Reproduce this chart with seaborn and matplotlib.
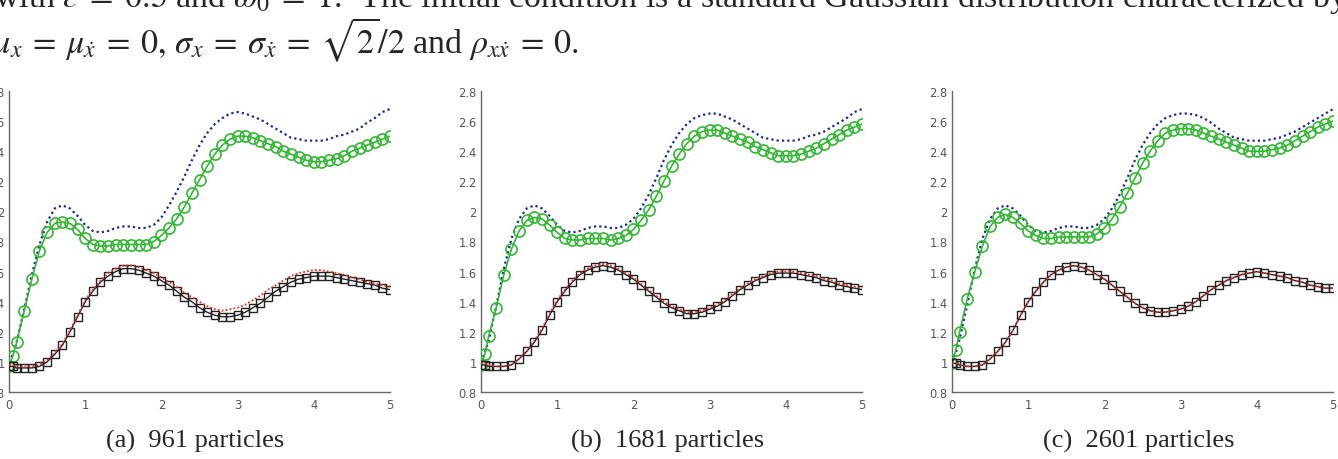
import matplotlib
matplotlib.use("Agg")
import matplotlib.pyplot as plt
from matplotlib.ticker import FuncFormatter
import seaborn as sns

# time samples (s)
t = [0, 0.05, 0.1, 0.2, 0.3, 0.4, 0.5, 0.6, 0.7, 0.8, 0.9, 1.0,
     1.1, 1.2, 1.3, 1.4, 1.5, 1.6, 1.7, 1.8, 1.9, 2.0,
     2.1, 2.2, 2.3, 2.4, 2.5, 2.6, 2.7, 2.8, 2.9, 3.0,
     3.1, 3.2, 3.3, 3.4, 3.5, 3.6, 3.7, 3.8, 3.9, 4.0,
     4.1, 4.2, 4.3, 4.4, 4.5, 4.6, 4.7, 4.8, 4.9, 5.0]

captions = ["(a)  961 particles", "(b)  1681 particles", "(c)  2601 particles"]

# (a) 961 particles
blue_a = [1.00, 1.05, 1.13, 1.35, 1.58, 1.78, 1.93, 2.02, 2.04, 2.02, 1.97, 1.91,
          1.87, 1.86, 1.87, 1.89, 1.90, 1.90, 1.89, 1.89, 1.91, 1.96,
          2.04, 2.13, 2.23, 2.34, 2.44, 2.52, 2.58, 2.62, 2.65, 2.66,
          2.65, 2.63, 2.61, 2.58, 2.55, 2.52, 2.49, 2.48, 2.47, 2.47,
          2.47, 2.48, 2.50, 2.51, 2.53, 2.55, 2.59, 2.62, 2.66, 2.68]
green_a = [0.97, 1.04, 1.13, 1.34, 1.55, 1.74, 1.86, 1.92, 1.93, 1.92, 1.88, 1.82,
           1.78, 1.77, 1.77, 1.78, 1.78, 1.78, 1.78, 1.78, 1.80, 1.84,
           1.89, 1.95, 2.03, 2.12, 2.21, 2.30, 2.38, 2.44, 2.48, 2.50,
           2.50, 2.49, 2.47, 2.45, 2.43, 2.40, 2.38, 2.36, 2.34, 2.33,
           2.33, 2.34, 2.35, 2.37, 2.40, 2.42, 2.44, 2.46, 2.48, 2.50]
black_a = [0.97, 0.97, 0.96, 0.96, 0.96, 0.97, 1.00, 1.05, 1.11, 1.20, 1.30, 1.40,
           1.47, 1.53, 1.57, 1.60, 1.62, 1.62, 1.61, 1.59, 1.57, 1.54,
           1.51, 1.47, 1.43, 1.40, 1.36, 1.33, 1.31, 1.30, 1.30, 1.31,
           1.33, 1.36, 1.39, 1.43, 1.47, 1.50, 1.53, 1.55, 1.56, 1.57,
           1.57, 1.57, 1.56, 1.55, 1.54, 1.53, 1.52, 1.51, 1.49, 1.48]
red_a = [0.98, 0.98, 0.97, 0.97, 0.97, 0.98, 1.01, 1.06, 1.12, 1.21, 1.31, 1.41,
         1.48, 1.54, 1.59, 1.62, 1.64, 1.64, 1.63, 1.61, 1.59, 1.56,
         1.53, 1.50, 1.46, 1.43, 1.40, 1.37, 1.35, 1.34, 1.35, 1.36,
         1.38, 1.41, 1.44, 1.48, 1.51, 1.54, 1.57, 1.59, 1.60, 1.61,
         1.61, 1.60, 1.59, 1.58, 1.56, 1.55, 1.53, 1.52, 1.51, 1.50]

# (b) 1681 particles
blue_b = [1.00, 1.06, 1.14, 1.37, 1.62, 1.82, 1.95, 2.02, 2.04, 2.02, 1.97, 1.91,
          1.87, 1.86, 1.87, 1.89, 1.90, 1.90, 1.89, 1.89, 1.91, 1.95,
          2.02, 2.11, 2.22, 2.34, 2.44, 2.52, 2.58, 2.62, 2.64, 2.65,
          2.65, 2.63, 2.61, 2.58, 2.55, 2.52, 2.49, 2.48, 2.47, 2.47,
          2.47, 2.48, 2.50, 2.51, 2.53, 2.56, 2.59, 2.62, 2.66, 2.68]
green_b = [0.98, 1.05, 1.17, 1.36, 1.58, 1.75, 1.87, 1.94, 1.96, 1.95, 1.91, 1.86,
           1.82, 1.81, 1.81, 1.82, 1.82, 1.82, 1.81, 1.82, 1.84, 1.88,
           1.94, 2.01, 2.10, 2.20, 2.30, 2.38, 2.45, 2.50, 2.53, 2.54,
           2.54, 2.52, 2.50, 2.48, 2.46, 2.43, 2.41, 2.39, 2.37, 2.37,
           2.37, 2.38, 2.40, 2.42, 2.45, 2.48, 2.51, 2.54, 2.56, 2.58]
black_b = [0.98, 0.98, 0.97, 0.97, 0.97, 0.98, 1.02, 1.07, 1.13, 1.21, 1.31, 1.40,
           1.47, 1.53, 1.58, 1.61, 1.63, 1.64, 1.63, 1.61, 1.58, 1.55,
           1.51, 1.47, 1.43, 1.39, 1.36, 1.34, 1.32, 1.32, 1.33, 1.35,
           1.37, 1.40, 1.44, 1.48, 1.51, 1.54, 1.56, 1.58, 1.59, 1.59,
           1.59, 1.58, 1.57, 1.56, 1.54, 1.53, 1.51, 1.50, 1.49, 1.48]
red_b = [0.99, 0.99, 0.98, 0.97, 0.97, 0.98, 1.02, 1.07, 1.14, 1.22, 1.32, 1.41,
         1.48, 1.54, 1.59, 1.62, 1.64, 1.65, 1.64, 1.62, 1.59, 1.56,
         1.52, 1.48, 1.44, 1.40, 1.37, 1.35, 1.33, 1.33, 1.34, 1.36,
         1.38, 1.41, 1.45, 1.49, 1.52, 1.55, 1.57, 1.59, 1.60, 1.60,
         1.60, 1.59, 1.58, 1.57, 1.55, 1.54, 1.52, 1.51, 1.50, 1.49]

# (c) 2601 particles
blue_c = [1.00, 1.06, 1.15, 1.38, 1.62, 1.82, 1.95, 2.02, 2.04, 2.02, 1.97, 1.91,
          1.87, 1.86, 1.87, 1.89, 1.90, 1.90, 1.89, 1.89, 1.91, 1.95,
          2.02, 2.11, 2.22, 2.34, 2.44, 2.52, 2.58, 2.62, 2.64, 2.65,
          2.65, 2.64, 2.62, 2.59, 2.55, 2.52, 2.49, 2.48, 2.47, 2.47,
          2.47, 2.48, 2.49, 2.51, 2.53, 2.56, 2.59, 2.62, 2.65, 2.68]
green_c = [0.99, 1.08, 1.20, 1.42, 1.60, 1.77, 1.90, 1.96, 1.98, 1.96, 1.92, 1.87,
           1.84, 1.82, 1.82, 1.83, 1.83, 1.83, 1.83, 1.83, 1.85, 1.89,
           1.95, 2.03, 2.12, 2.22, 2.32, 2.40, 2.47, 2.52, 2.54, 2.55,
           2.55, 2.54, 2.52, 2.50, 2.48, 2.46, 2.44, 2.42, 2.40, 2.40,
           2.40, 2.41, 2.42, 2.44, 2.47, 2.50, 2.53, 2.56, 2.58, 2.60]
black_c = [0.99, 0.99, 0.98, 0.97, 0.97, 0.98, 1.02, 1.07, 1.13, 1.21, 1.31, 1.40,
           1.47, 1.53, 1.58, 1.61, 1.63, 1.64, 1.63, 1.61, 1.58, 1.55,
           1.51, 1.47, 1.43, 1.39, 1.36, 1.34, 1.33, 1.33, 1.34, 1.35,
           1.37, 1.40, 1.44, 1.48, 1.51, 1.54, 1.56, 1.58, 1.59, 1.60,
           1.59, 1.58, 1.57, 1.56, 1.54, 1.53, 1.51, 1.50, 1.49, 1.49]
red_c = [0.99, 0.99, 0.98, 0.97, 0.97, 0.98, 1.02, 1.07, 1.13, 1.21, 1.31, 1.40,
         1.47, 1.53, 1.58, 1.61, 1.63, 1.64, 1.63, 1.61, 1.58, 1.55,
         1.51, 1.47, 1.43, 1.39, 1.36, 1.34, 1.33, 1.33, 1.34, 1.35,
         1.37, 1.40, 1.44, 1.48, 1.51, 1.54, 1.56, 1.58, 1.59, 1.60,
         1.59, 1.58, 1.57, 1.56, 1.54, 1.53, 1.51, 1.50, 1.49, 1.49]

panels = [
    (blue_a, green_a, red_a, black_a),
    (blue_b, green_b, red_b, black_b),
    (blue_c, green_c, red_c, black_c),
]

sns.set_style("white")
plt.rcParams["mathtext.fontset"] = "stix"

fig = plt.figure(figsize=(13.38, 4.6), dpi=100)
lefts = [9 / 1338, 481 / 1338, 952 / 1338]
serif = ["Liberation Serif", "DejaVu Serif"]

for left, (blue, green, red, black), cap in zip(lefts, panels, captions):
    ax = fig.add_axes([left, 67 / 460, 381 / 1338, 301 / 460])
    sns.lineplot(x=t, y=blue, ax=ax, color="#1a2a9c", linestyle=(0, (1, 1.4)),
                 linewidth=1.6, zorder=2)
    sns.lineplot(x=t, y=green, ax=ax, color="#33b833", marker="o", markersize=8,
                 markerfacecolor="none", markeredgecolor="#33b833",
                 markeredgewidth=1.2, linewidth=1.2, zorder=3)
    sns.lineplot(x=t, y=black, ax=ax, color="#222222", marker="s", markersize=6.2,
                 markerfacecolor="none", markeredgecolor="#222222",
                 markeredgewidth=1.0, linewidth=1.0, zorder=3)
    sns.lineplot(x=t, y=red, ax=ax, color="#e0302a", linestyle=(0, (1, 1.2)),
                 linewidth=1.3, zorder=4)

    ax.set_xlim(0, 5)
    ax.set_ylim(0.8, 2.8)
    ax.set_xticks([0, 1, 2, 3, 4, 5])
    ax.set_yticks([0.8, 1.0, 1.2, 1.4, 1.6, 1.8, 2.0, 2.2, 2.4, 2.6, 2.8])
    ax.yaxis.set_major_formatter(FuncFormatter(lambda v, p: f"{v:g}"))
    for side in ["top", "right"]:
        ax.spines[side].set_visible(False)
    for side in ["left", "bottom"]:
        ax.spines[side].set_color("#666666")
        ax.spines[side].set_linewidth(1.0)
    ax.tick_params(direction="in", length=3, width=0.8, color="#666666",
                   labelsize=8.3, labelcolor="#555555", pad=3)
    ax.tick_params(axis="x", pad=4)
    ax.set_xlabel("")
    ax.set_ylabel("")
    fig.text(left + 381 / 1338 / 2 - 0.003, 1 - 448 / 460, cap, ha="center",
             va="baseline", fontsize=19, family=serif)

fig.text(-6 / 1338, 1 - 7 / 460,
         r"with $\epsilon\;=\;0.5$ and $\omega_0\;=\;1$.  The initial condition is a "
         r"standard Gaussian distribution characterized by",
         ha="left", va="baseline", fontsize=24.5, family=serif)
fig.text(-9 / 1338, 1 - 53 / 460,
         r"$\mu_x\:=\:\mu_{\dot{x}}\:=\:0,\,\sigma_x\:=\:\sigma_{\dot{x}}\:=\:\sqrt{2}/2$ and "
         r"$\rho_{x\dot{x}}\:=\:0.$",
         ha="left", va="baseline", fontsize=24.5, family=serif)

fig.savefig("out.png", dpi=100)
